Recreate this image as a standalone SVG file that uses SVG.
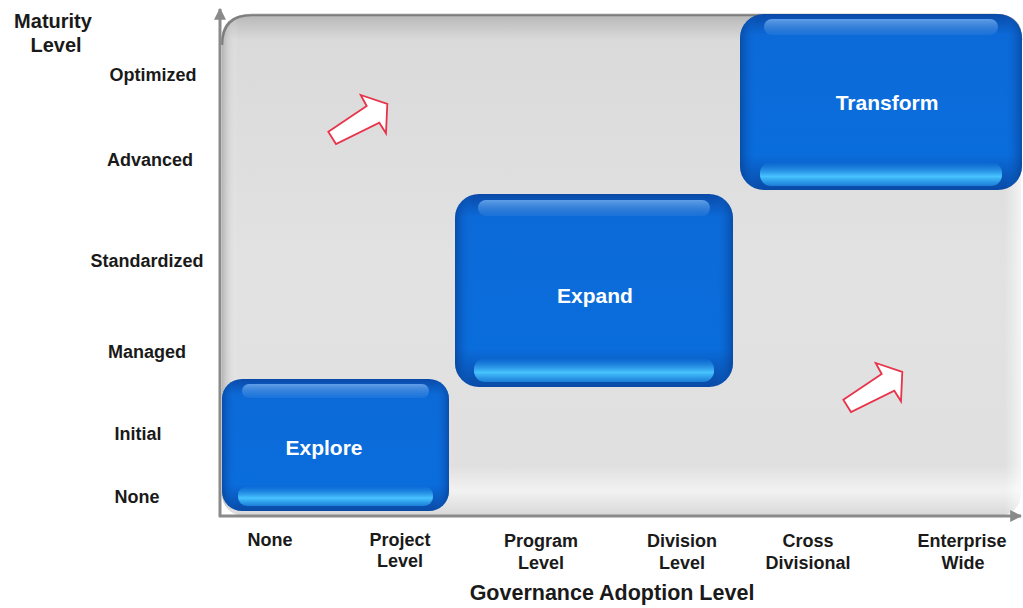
<svg xmlns="http://www.w3.org/2000/svg" width="1023" height="608" viewBox="0 0 1023 608">
<style>
.lbl{font-family:"Liberation Sans",Arial,sans-serif;font-weight:bold;font-size:18px;fill:#1a1a1a;text-anchor:middle}
.ttl{font-family:"Liberation Sans",Arial,sans-serif;font-weight:bold;font-size:21.5px;fill:#1a1a1a;text-anchor:middle}
.box{font-family:"Liberation Sans",Arial,sans-serif;font-weight:bold;font-size:21px;fill:#ffffff;text-anchor:middle}
.axis{stroke:#8a8a8a;stroke-width:3;fill:none}
.arr{fill:#ffffff;stroke:#e8334a;stroke-width:1.8;stroke-linejoin:miter}
</style>
<defs>
<linearGradient id="panelG" x1="0" y1="0" x2="0" y2="1">
<stop offset="0" stop-color="#b8b8b8"/>
<stop offset="0.05" stop-color="#dadada"/>
<stop offset="0.5" stop-color="#e2e2e2"/>
<stop offset="0.9" stop-color="#e0e0e0"/>
<stop offset="0.95" stop-color="#f2f2f2"/>
<stop offset="1" stop-color="#d8d8d8"/>
</linearGradient>
<linearGradient id="panelL" x1="0" y1="0" x2="1" y2="0">
<stop offset="0" stop-color="#9a9a9a" stop-opacity="0.6"/>
<stop offset="0.02" stop-color="#ffffff" stop-opacity="0"/>
<stop offset="0.98" stop-color="#ffffff" stop-opacity="0"/>
<stop offset="1" stop-color="#ffffff" stop-opacity="0.6"/>
</linearGradient>
<linearGradient id="blueG" x1="0" y1="0" x2="0" y2="1">
<stop offset="0" stop-color="#0a4aa8"/>
<stop offset="0.12" stop-color="#0c6ad8"/>
<stop offset="0.8" stop-color="#0a6ddc"/>
<stop offset="1" stop-color="#0a4aa6"/>
</linearGradient>
<linearGradient id="blueS" x1="0" y1="0" x2="1" y2="0">
<stop offset="0" stop-color="#063a8a" stop-opacity="0.6"/>
<stop offset="0.06" stop-color="#0a6ad8" stop-opacity="0"/>
<stop offset="0.94" stop-color="#0a6ad8" stop-opacity="0"/>
<stop offset="1" stop-color="#063a8a" stop-opacity="0.6"/>
</linearGradient>
<linearGradient id="topHi" x1="0" y1="0" x2="0" y2="1">
<stop offset="0" stop-color="#6aa8ee" stop-opacity="0.9"/>
<stop offset="1" stop-color="#3a88e0" stop-opacity="0.3"/>
</linearGradient>
<linearGradient id="botHi" x1="0" y1="0" x2="0" y2="1">
<stop offset="0" stop-color="#2aa0f5" stop-opacity="0"/>
<stop offset="0.6" stop-color="#48c4ff" stop-opacity="1"/>
<stop offset="1" stop-color="#2a9ef0" stop-opacity="0.6"/>
</linearGradient>
<marker id="ah" viewBox="0 0 10 10" refX="9" refY="5" markerWidth="4" markerHeight="4" orient="auto" markerUnits="strokeWidth">
<path d="M0,0 L10,5 L0,10 z" fill="#8a8a8a"/>
</marker>
<polygon id="bigArrow" class="arr" points="328.3,131.7 366.7,106 360.7,95 387.3,104 386,133.3 379.3,122.7 336,144"/>
</defs>

<g id="panel">
<rect x="222" y="15" width="799" height="501" rx="22" fill="url(#panelG)"/>
<rect x="222" y="15" width="799" height="501" rx="22" fill="url(#panelL)"/>
<path d="M222,45 Q222,15 252,15 L995,15 Q1021,15 1021,40" fill="none" stroke="#6a6a6a" stroke-width="2.5" opacity="0.75"/>
</g>

<g id="connectors">
<line class="axis" x1="220" y1="517" x2="220" y2="9" marker-end="url(#ah)"/>
<line class="axis" x1="219" y1="516" x2="1021" y2="516" marker-end="url(#ah)"/>
<use href="#bigArrow"/>
<use href="#bigArrow" transform="translate(515,268)"/>
</g>

<g id="explore">
<rect x="222" y="379" width="227" height="132" rx="20" fill="url(#blueG)"/>
<rect x="222" y="379" width="227" height="132" rx="20" fill="url(#blueS)"/>
<rect x="242" y="384" width="187" height="14" rx="7" fill="url(#topHi)"/>
<rect x="238" y="486" width="195" height="20" rx="9" fill="url(#botHi)"/>
<text class="box" x="324" y="455">Explore</text>
</g>

<g id="expand">
<rect x="455" y="194" width="278" height="193" rx="24" fill="url(#blueG)"/>
<rect x="455" y="194" width="278" height="193" rx="24" fill="url(#blueS)"/>
<rect x="478" y="200" width="232" height="16" rx="8" fill="url(#topHi)"/>
<rect x="474" y="358" width="240" height="24" rx="11" fill="url(#botHi)"/>
<text class="box" x="595" y="303">Expand</text>
</g>

<g id="transform">
<rect x="740" y="14" width="282" height="176" rx="24" fill="url(#blueG)"/>
<rect x="740" y="14" width="282" height="176" rx="24" fill="url(#blueS)"/>
<rect x="764" y="19" width="234" height="16" rx="8" fill="url(#topHi)"/>
<rect x="760" y="162" width="242" height="24" rx="11" fill="url(#botHi)"/>
<text class="box" x="887" y="110">Transform</text>
</g>

<g id="y-labels">
<text class="lbl" style="font-size:20px" x="53" y="28">Maturity</text>
<text class="lbl" style="font-size:20px" x="56" y="52">Level</text>
<text class="lbl" x="153" y="81">Optimized</text>
<text class="lbl" x="150" y="166">Advanced</text>
<text class="lbl" x="147" y="267">Standardized</text>
<text class="lbl" x="147" y="358">Managed</text>
<text class="lbl" x="138" y="440">Initial</text>
<text class="lbl" x="137" y="503">None</text>
</g>

<g id="x-labels">
<text class="lbl" x="270" y="546">None</text>
<text class="lbl" x="400" y="546">Project</text>
<text class="lbl" x="400" y="567">Level</text>
<text class="lbl" x="541" y="547">Program</text>
<text class="lbl" x="541" y="569">Level</text>
<text class="lbl" x="682" y="547">Division</text>
<text class="lbl" x="682" y="569">Level</text>
<text class="lbl" x="808" y="547">Cross</text>
<text class="lbl" x="808" y="569">Divisional</text>
<text class="lbl" x="962" y="547">Enterprise</text>
<text class="lbl" x="963" y="569">Wide</text>
<text class="ttl" x="612" y="600">Governance Adoption Level</text>
</g>
</svg>
